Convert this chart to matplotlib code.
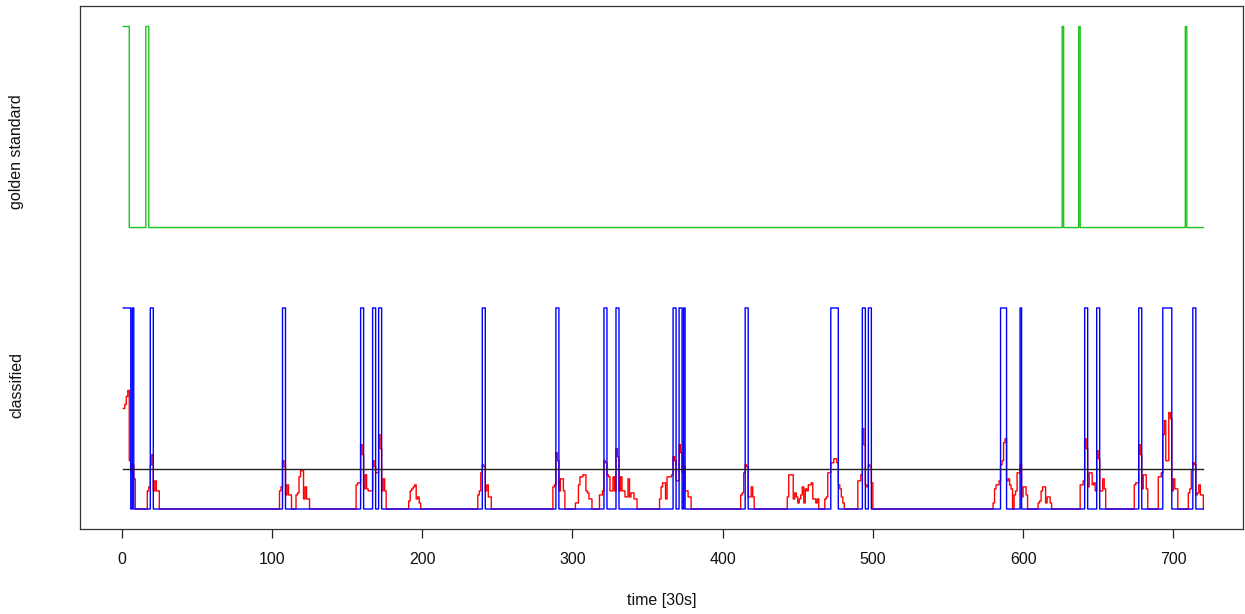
import numpy as np
import matplotlib
matplotlib.use("Agg")
import matplotlib.pyplot as plt

plt.rcParams['font.family'] = ['Liberation Sans', 'DejaVu Sans']

# ---------------- data ----------------
N_EPOCHS = 720
THRESHOLD = 0.2
GOLD_OFFSET = 1.4

# golden standard: epochs (start, end-exclusive) where value == 1
GOLD_HIGH = [(1, 5), (16, 18), (626, 627), (637, 638), (708, 709)]

# classified: epochs (start, end-exclusive) where value == 1
CLASS_HIGH = [(1, 6), (7, 8), (19, 21), (107, 109), (159, 161), (167, 169),
              (171, 173), (240, 242), (289, 291), (321, 323), (329, 331),
              (367, 369), (371, 373), (374, 375), (415, 417), (472, 477),
              (493, 495), (497, 499), (585, 589), (598, 599), (641, 643),
              (649, 651), (677, 679), (693, 699), (713, 715)]

# probability bumps: (first epoch, values for consecutive epochs); zero elsewhere
PROB_SEGMENTS = [
    (1,   [0.50, 0.52, 0.56, 0.59, 0.24, 0.19, 0.22, 0.15]),
    (17,  [0.09, 0.11, 0.22, 0.27, 0.09, 0.14, 0.09, 0.09]),
    (105, [0.09, 0.11, 0.24, 0.21, 0.07, 0.12, 0.07, 0.07]),
    (116, [0.07, 0.08, 0.16, 0.19, 0.19, 0.05, 0.11, 0.05, 0.05]),
    (156, [0.12, 0.13, 0.13, 0.32, 0.27, 0.10, 0.17, 0.10, 0.09, 0.09, 0.09,
           0.24, 0.21, 0.18, 0.18, 0.37, 0.30, 0.09, 0.15, 0.09]),
    (191, [0.04, 0.09, 0.10, 0.11, 0.12, 0.05, 0.06, 0.03]),
    (237, [0.07, 0.09, 0.18, 0.22, 0.21, 0.09, 0.12, 0.06, 0.06]),
    (287, [0.11, 0.12, 0.28, 0.24, 0.09, 0.15, 0.15, 0.09]),
    (302, [0.03, 0.03, 0.12, 0.16, 0.16, 0.17, 0.17, 0.09, 0.08, 0.05, 0.05]),
    (318, [0.07, 0.07, 0.09, 0.24, 0.23, 0.17, 0.16, 0.09, 0.09, 0.16, 0.09,
           0.30, 0.26, 0.09, 0.16, 0.09, 0.09, 0.06, 0.06, 0.15, 0.06, 0.08,
           0.08, 0.05, 0.05]),
    (358, [0.05, 0.11, 0.13, 0.13, 0.05, 0.16, 0.16, 0.16, 0.17, 0.26, 0.24,
           0.14, 0.14, 0.32, 0.28, 0.18, 0.21, 0.09, 0.09, 0.06, 0.06]),
    (412, [0.07, 0.08, 0.18, 0.22, 0.21, 0.06, 0.06, 0.11, 0.06]),
    (443, [0.06, 0.17, 0.17, 0.17, 0.05, 0.08, 0.06, 0.03, 0.05, 0.07, 0.11,
           0.03, 0.10, 0.09, 0.12, 0.12, 0.13, 0.05, 0.05, 0.03, 0.05]),
    (468, [0.05, 0.06, 0.18, 0.18, 0.23, 0.23, 0.25, 0.25, 0.23, 0.12, 0.10,
           0.06, 0.03]),
    (490, [0.14, 0.14, 0.17, 0.40, 0.32, 0.12, 0.11, 0.22, 0.21, 0.13]),
    (580, [0.03, 0.10, 0.12, 0.12, 0.14, 0.22, 0.24, 0.33, 0.35, 0.14, 0.15,
           0.12, 0.10]),
    (594, [0.07, 0.09, 0.18, 0.18, 0.22, 0.06, 0.11, 0.11, 0.07]),
    (610, [0.03, 0.04, 0.09, 0.11, 0.11, 0.03, 0.06, 0.06, 0.03]),
    (638, [0.12, 0.12, 0.14, 0.35, 0.30, 0.11, 0.18, 0.18, 0.12, 0.13, 0.09,
           0.29, 0.25, 0.09, 0.09, 0.15, 0.10]),
    (674, [0.12, 0.13, 0.13, 0.32, 0.27, 0.10, 0.17, 0.17, 0.10]),
    (690, [0.16, 0.16, 0.18, 0.37, 0.44, 0.24, 0.24, 0.48, 0.45, 0.09, 0.15,
           0.10, 0.10]),
    (710, [0.08, 0.10, 0.19, 0.23, 0.22, 0.07, 0.08, 0.12, 0.07, 0.07]),
]

X_TICKS = [0, 100, 200, 300, 400, 500, 600, 700]
X_LABEL = "time [30s]"
LABEL_GOLD = "golden standard"
LABEL_CLASS = "classified"

# ---------------- build series ----------------
t = np.arange(1, N_EPOCHS + 1)

gold = np.zeros(N_EPOCHS)
for s, e in GOLD_HIGH:
    gold[(t >= s) & (t < e)] = 1

classified = np.zeros(N_EPOCHS)
for s, e in CLASS_HIGH:
    classified[(t >= s) & (t < e)] = 1

prob = np.zeros(N_EPOCHS)
for s, vals in PROB_SEGMENTS:
    prob[s - 1:s - 1 + len(vals)] = vals

# ---------------- plot ----------------
W, H = 1245, 614
fig = plt.figure(figsize=(W / 100, H / 100), dpi=100)
left, right, top, bottom = 80, 1243, 6, 529
ax = fig.add_axes([left / W, (H - bottom) / H, (right - left) / W, (bottom - top) / H])

lw = 1.0
ax.plot(t, prob, drawstyle='steps-post', color='#FF0000', lw=lw)
ax.plot(t, classified, drawstyle='steps-post', color='#0000FF', lw=lw)
ax.plot(t, gold + GOLD_OFFSET, drawstyle='steps-post', color='#1DC41D', lw=lw)
ax.plot([t[0], t[-1]], [THRESHOLD, THRESHOLD], color='#222222', lw=lw)

ax.set_xlim(-27.8, 746.4)
ax.set_ylim(-0.0995, 2.502)

ax.set_yticks([])
ax.set_xticks(X_TICKS)
ax.set_xticklabels([str(v) for v in X_TICKS], fontsize=11.5, color='#111111')
ax.tick_params(axis='x', length=6.5, width=0.9, pad=10, color='#222222')
for sp in ax.spines.values():
    sp.set_linewidth(0.9)
    sp.set_color('#333333')

ax.set_xlabel(X_LABEL, fontsize=11.5, color='#111111')
ax.xaxis.set_label_coords(0.5, -(600 - bottom) / (bottom - top))
ax.xaxis.label.set_va('center')

label_x = (16.7 - left) / (right - left)
ax.text(label_x, 1.78, LABEL_GOLD, rotation=90, ha='center', va='center',
        fontsize=11.5, color='#111111', transform=ax.get_yaxis_transform())
ax.text(label_x, 0.617, LABEL_CLASS, rotation=90, ha='center', va='center',
        fontsize=11.5, color='#111111', transform=ax.get_yaxis_transform())

fig.savefig('out.png', dpi=100)
